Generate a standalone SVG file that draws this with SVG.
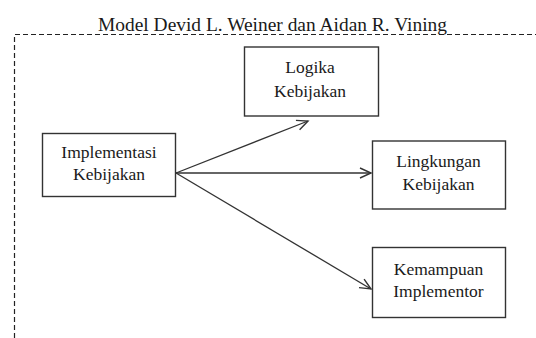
<svg xmlns="http://www.w3.org/2000/svg" width="536" height="338" viewBox="0 0 536 338">
<style>
  .box { fill: #ffffff; stroke: #333333; stroke-width: 1.4; }
  .frame { fill: none; stroke: #222222; stroke-width: 1.2; stroke-dasharray: 5 3; }
  .conn { fill: none; stroke: #333333; stroke-width: 1.3; }
</style>
<defs>
  <marker id="arr" markerUnits="userSpaceOnUse" markerWidth="14" markerHeight="14" viewBox="-12 -7 14 14" refX="0" refY="0" orient="auto">
    <polyline points="-11,-5 0,0 -11,5" fill="none" stroke="#333333" stroke-width="1.4"/>
  </marker>
</defs>
<rect width="536" height="338" fill="#ffffff"/>
<g id="frame">
  <path class="frame" d="M14.5,338 V34.5 H536"/>
  <text font-family="'Liberation Serif', 'Times New Roman', serif" font-size="19" fill="#1a1a1a" x="98" y="31" textLength="349" lengthAdjust="spacingAndGlyphs">Model Devid L. Weiner dan Aidan R. Vining</text>
</g>
<g id="connectors">
  <line class="conn" x1="176" y1="173" x2="308" y2="121" marker-end="url(#arr)"/>
  <line class="conn" x1="176" y1="173" x2="371" y2="173" marker-end="url(#arr)"/>
  <line class="conn" x1="176" y1="173" x2="371" y2="289" marker-end="url(#arr)"/>
</g>
<g font-family="'Liberation Serif', 'Times New Roman', serif" font-size="17.5" fill="#1a1a1a" text-anchor="middle">
<g id="logika">
  <rect class="box" x="244.5" y="47" width="134" height="69"/>
  <text x="310" y="73">Logika</text>
  <text x="310" y="96.5">Kebijakan</text>
</g>
<g id="implementasi">
  <rect class="box" x="42.5" y="133.5" width="133" height="63"/>
  <text x="109" y="158">Implementasi</text>
  <text x="109" y="180">Kebijakan</text>
</g>
<g id="lingkungan">
  <rect class="box" x="372.5" y="141" width="133" height="68"/>
  <text x="438.5" y="166.5">Lingkungan</text>
  <text x="438.5" y="190">Kebijakan</text>
</g>
<g id="kemampuan">
  <rect class="box" x="372.5" y="247.5" width="133" height="70"/>
  <text x="438.5" y="275">Kemampuan</text>
  <text x="438.5" y="297">Implementor</text>
</g>
</g>
</svg>
